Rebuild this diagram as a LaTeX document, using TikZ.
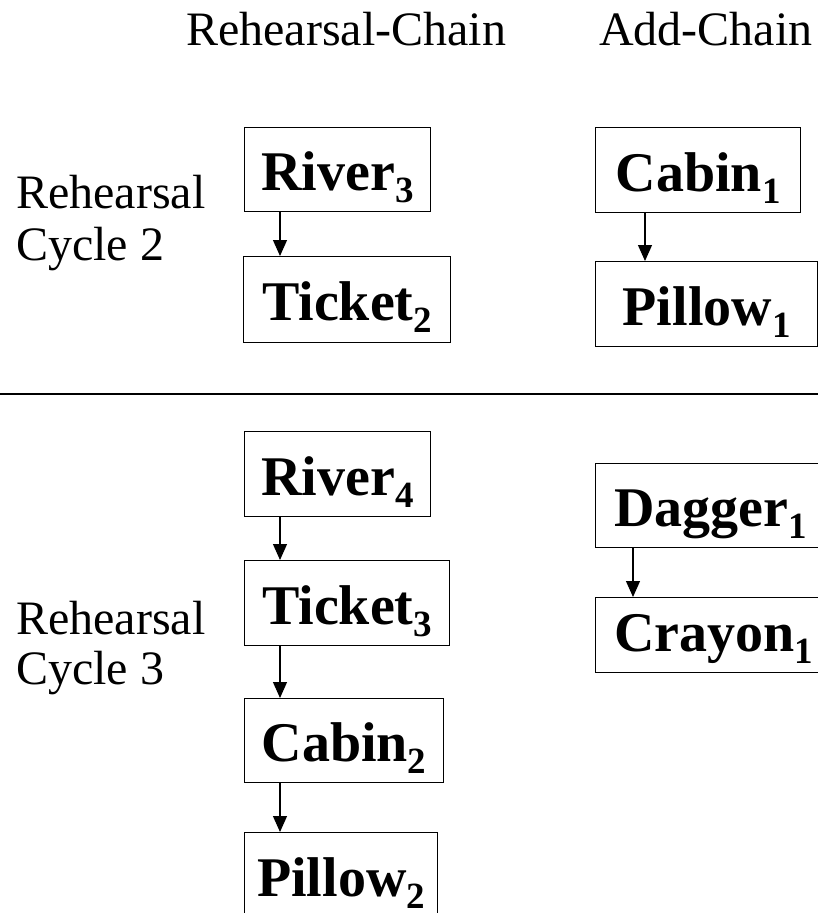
\documentclass[tikz,border=0pt]{standalone}
\usepackage{fontspec}
\setmainfont{Liberation Serif}
\usetikzlibrary{arrows.meta}
\newcommand\subnum[1]{\raisebox{-12pt}{\fontsize{37}{38}\selectfont #1}}
\begin{document}
\begin{tikzpicture}[x=1pt,y=-1pt,
  chainbox/.style={draw, line width=1.2pt, inner xsep=6pt, inner ysep=0pt,
    minimum height=85pt, text height=53pt, text depth=11pt, anchor=north west,
    font=\bfseries\fontsize{56}{60}\selectfont},
  lbl/.style={anchor=base west, inner sep=0pt, font=\fontsize{48}{54}\selectfont},
  arr/.style={-{Triangle[length=16pt,width=14pt]}, line width=1.2pt}]
\clip (0,0) rectangle (818,913);
% headers
\node[lbl] (hrc) at (186,45) {Rehearsal-Chain};
\node[lbl] (hac) at (599,45) {Add-Chain};
% side labels
\node[lbl] (c2a) at (16,208) {Rehearsal};
\node[lbl] (c2b) at (16,260) {Cycle 2};
\node[lbl] (c3a) at (16,634) {Rehearsal};
\node[lbl] (c3b) at (16,684) {Cycle 3};
% separator
\coordinate (sepl) at (0,394);
\coordinate (sepr) at (818,394);
\draw[line width=1.2pt] (sepl) -- (sepr);
% cycle 2
\node[chainbox, minimum width=186pt, minimum height=84pt] (river3) at (244,127) {River\subnum{3}};
\node[chainbox, minimum width=207pt, minimum height=86pt] (ticket2) at (243,256) {Ticket\subnum{2}};
\node[chainbox, minimum width=205pt] (cabin1) at (595,127) {Cabin\subnum{1}};
\node[chainbox, minimum width=222pt] (pillow1) at (595,261) {Pillow\subnum{1}};
% cycle 3
\node[chainbox, minimum width=186pt] (river4) at (244,431) {River\subnum{4}};
\node[chainbox, minimum width=205pt] (ticket3) at (244,560) {Ticket\subnum{3}};
\node[chainbox, minimum width=199pt, minimum height=84pt] (cabin2) at (244,698) {Cabin\subnum{2}};
\node[chainbox, minimum width=193pt, minimum height=82pt, text height=55.5pt, text depth=10.5pt] (pillow2) at (244,832) {Pillow\subnum{2}};
\node[chainbox, minimum width=230pt, minimum height=84pt] (dagger1) at (595,463) {Dagger\subnum{1}};
\node[chainbox, minimum width=236pt, minimum height=75pt, text height=47pt, text depth=15pt] (crayon1) at (595,597) {Crayon\subnum{1}};
% arrows
\draw[arr] ([xshift=36pt]river3.south west) -- ([xshift=37pt]ticket2.north west);
\draw[arr] ([xshift=50pt]cabin1.south west) -- ([xshift=50pt]pillow1.north west);
\draw[arr] ([xshift=36pt]river4.south west) -- ([xshift=36pt]ticket3.north west);
\draw[arr] ([xshift=36pt]ticket3.south west) -- ([xshift=36pt]cabin2.north west);
\draw[arr] ([xshift=36pt]cabin2.south west) -- ([xshift=36pt]pillow2.north west);
\draw[arr] ([xshift=38pt]dagger1.south west) -- ([xshift=38pt]crayon1.north west);
\end{tikzpicture}
\end{document}
